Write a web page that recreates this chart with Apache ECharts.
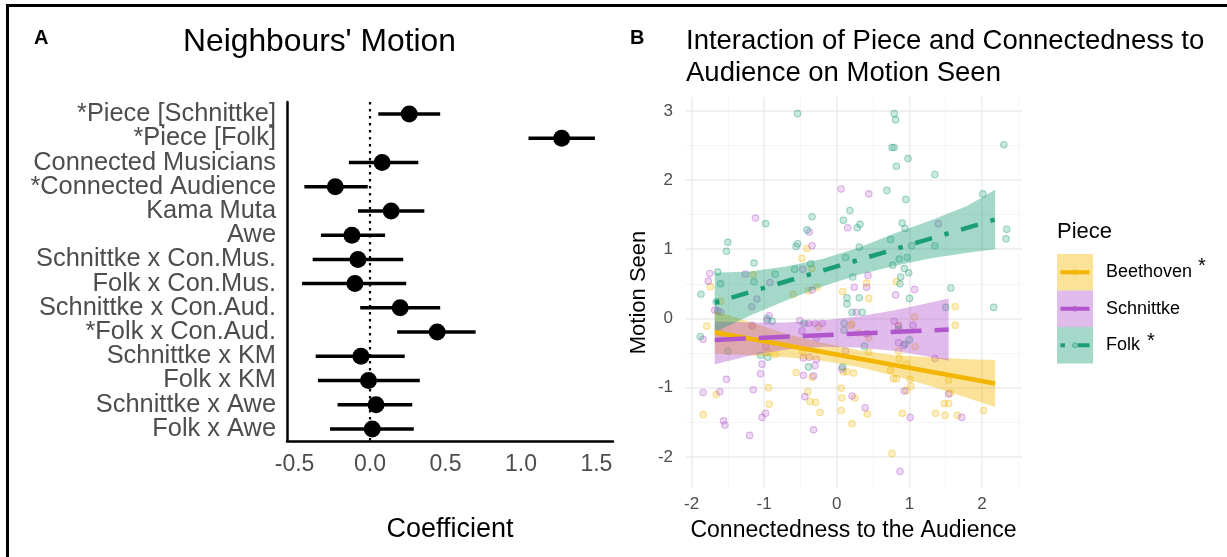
<!DOCTYPE html>
<html>
<head>
<meta charset="utf-8">
<script src="https://cdn.jsdelivr.net/npm/echarts@6/dist/echarts.min.js"></script>
<style>
  html, body { margin: 0; padding: 0; background: #ffffff; }
  #chart { width: 1227px; height: 557px; }
</style>
</head>
<body>
<div id="chart"></div>
<script>
// ---------- Panel A: model coefficients with confidence intervals ----------
const terms = [
  '*Piece [Schnittke]', '*Piece [Folk]', 'Connected Musicians', '*Connected Audience',
  'Kama Muta', 'Awe', 'Schnittke x Con.Mus.', 'Folk x Con.Mus.',
  'Schnittke x Con.Aud.', '*Folk x Con.Aud.', 'Schnittke x KM', 'Folk x KM',
  'Schnittke x Awe', 'Folk x Awe'
];
const estimates = [0.26, 1.27, 0.08, -0.23, 0.14, -0.12, -0.08, -0.10, 0.20, 0.445, -0.06, -0.01, 0.04, 0.015];
const ciLow     = [0.055, 1.05, -0.14, -0.435, -0.08, -0.325, -0.38, -0.45, -0.065, 0.18, -0.36, -0.345, -0.215, -0.265];
const ciHigh    = [0.465, 1.49, 0.32, -0.015, 0.36, 0.10, 0.22, 0.24, 0.465, 0.70, 0.23, 0.33, 0.28, 0.29];
const coefTicks = [-0.5, 0, 0.5, 1, 1.5];
// term rows split into two interleaved label sets so tightly packed labels all stay visible
const termRowsEven = terms.map((t, i) => i).filter(i => i % 2 === 0);
const termRowsOdd  = terms.map((t, i) => i).filter(i => i % 2 === 1);

// ---------- Panel B: motion seen vs connectedness, by piece ----------
const pieces = ['Beethoven', 'Schnittke', 'Folk'];

const pointsBeethoven = [
  [-0.41,1.01],[-0.48,0.87],[-0.34,0.72],[-1.15,0.63],[-1.60,0.25],[-1.74,0.46],[-0.60,0.35],[-0.39,0.40],
  [-0.27,0.45],[0.08,0.39],[0.41,0.51],[0.44,0.29],[0.82,0.53],[1.63,0.17],[-1.79,-0.11],[1.07,0.02],
  [0.21,-0.08],[0.19,-0.10],[-1.84,-1.39],[-1.66,-1.10],[-1.60,-0.21],[-0.95,-0.49],[-0.85,-0.52],[-0.94,-1.00],
  [-0.93,-1.24],[-1.15,-0.12],[-0.56,-0.78],[-0.40,-1.06],[-0.37,-1.20],[-0.29,-1.21],[-0.23,-1.36],[-0.34,-0.85],
  [-0.25,-0.12],[-0.47,-0.48],[0.06,-1.01],[0.07,-1.15],[0.06,-1.33],[0.21,-1.52],[0.25,-1.15],[0.14,-0.77],
  [0.23,-0.79],[0.09,-0.77],[0.30,-0.21],[0.44,-0.28],[0.44,-0.49],[0.42,-1.38],[0.76,-1.95],[0.74,-0.75],
  [0.78,-0.87],[0.82,-0.87],[0.85,-0.47],[0.86,-0.58],[0.85,-0.10],[1.01,-0.88],[1.02,-0.98],[0.96,-1.04],
  [1.08,-0.41],[0.96,-0.66],[1.36,-1.37],[0.90,-1.37],[1.48,-1.23],[1.54,-1.23],[1.49,-1.40],[1.54,-0.89],
  [1.56,-1.08],[1.66,-1.40],[1.63,-0.10],[2.02,-1.33]
];
const pointsSchnittke = [
  [0.06,1.87],[0.44,1.80],[-1.12,1.45],[0.15,1.31],[-0.38,1.25],[-0.34,1.05],[1.40,1.37],[-0.47,0.71],
  [-1.26,0.64],[-1.75,0.65],[-1.77,0.54],[-0.92,0.52],[-1.10,0.28],[-1.17,0.17],[0.43,0.62],[0.41,0.45],
  [0.24,0.45],[-0.34,0.41],[1.07,0.42],[0.81,0.34],[0.27,0.09],[-1.68,0.12],[-1.64,0.11],[-1.60,0.09],
  [-0.93,0.04],[-0.51,-0.03],[-1.84,-0.30],[-1.17,-0.10],[-0.98,-0.40],[-1.03,-0.66],[-1.05,-0.80],[-1.52,-0.88],
  [-1.84,-1.07],[-1.61,-1.06],[-1.15,-1.03],[-1.56,-1.48],[-1.54,-1.54],[-1.20,-1.69],[-1.03,-1.43],[-0.98,-1.37],
  [-0.39,-0.07],[-0.30,-0.07],[-0.20,-0.07],[-0.48,-0.18],[-0.28,-0.28],[-0.46,-0.57],[-0.38,-0.56],[-0.28,-0.59],
  [-0.46,-0.82],[-0.32,-0.83],[-0.30,-0.68],[-0.44,-1.13],[-0.32,-1.61],[0.12,-0.47],[0.07,-0.73],[0.21,-1.12],
  [0.39,-1.29],[0.41,-0.22],[0.79,-0.04],[0.85,-0.11],[1.05,-0.10],[0.85,-0.35],[0.92,-0.39],[0.93,-1.05],
  [1.01,-1.43],[0.87,-2.21],[1.35,-0.58],[1.54,-1.09],[1.72,-1.43],[-0.96,-0.03]
];
const pointsFolk = [
  [-0.54,2.96],[0.79,2.96],[0.81,2.87],[0.76,2.47],[0.79,2.47],[0.82,2.20],[0.98,2.31],[1.35,2.08],
  [2.30,2.51],[2.01,1.80],[0.69,1.85],[0.95,1.72],[0.18,1.56],[0.09,1.42],[0.32,1.36],[0.28,1.31],
  [-0.34,1.47],[-0.41,1.28],[-0.98,1.37],[-1.50,1.10],[-1.52,0.97],[0.90,1.38],[0.94,1.30],[0.74,1.14],
  [1.03,1.05],[1.35,1.05],[2.34,1.29],[2.33,1.15],[0.31,1.03],[0.12,0.88],[-0.54,1.08],[-0.56,1.04],
  [-0.58,0.71],[-0.36,0.79],[-1.14,0.80],[-1.14,0.53],[-0.85,0.64],[-1.64,0.67],[-1.60,0.50],[-1.87,0.35],
  [0.77,0.77],[0.97,0.88],[0.86,0.86],[0.93,0.72],[0.99,0.66],[0.88,0.60],[0.87,0.50],[0.22,0.60],
  [0.31,0.30],[0.14,0.30],[0.14,0.21],[0.21,0.09],[0.35,0.09],[1.57,0.44],[2.16,0.16],[1.50,0.16],
  [1.00,0.29],[-0.89,-0.04],[-0.96,0.00],[-1.66,0.24],[-1.88,-0.26],[-1.50,-0.47],[-1.05,-0.53],[-0.95,-0.56],
  [-0.45,-0.07],[0.10,-0.07],[0.10,-0.17],[0.38,-0.40],[-0.39,-0.70],[0.08,-0.70],[0.94,-0.37],[1.00,-0.31],
  [0.85,-0.16]
];

// fitted regression lines (start, end)
const fitBeethoven = [[-1.68, -0.20], [2.18, -0.94]];
const fitSchnittke = [[-1.68, -0.31], [1.54, -0.16]];
const fitFolk      = [[-1.68, 0.23], [2.18, 1.43]];

// confidence bands: x positions with lower / upper bounds
const bandXBeethoven     = [-1.68, -1.2, -0.7, -0.2, 0.3, 0.8, 1.3, 1.8, 2.18];
const bandLowBeethoven   = [-0.51, -0.53, -0.56, -0.61, -0.70, -0.83, -0.98, -1.15, -1.28];
const bandHighBeethoven  = [0.11, -0.05, -0.22, -0.35, -0.46, -0.53, -0.56, -0.59, -0.60];
const bandXSchnittke     = [-1.68, -1.2, -0.7, -0.2, 0.3, 0.8, 1.2, 1.54];
const bandLowSchnittke   = [-0.66, -0.54, -0.45, -0.41, -0.42, -0.47, -0.54, -0.61];
const bandHighSchnittke  = [-0.04, -0.06, -0.06, -0.03, 0.03, 0.12, 0.21, 0.29];
const bandXFolk          = [-1.68, -1.2, -0.7, -0.2, 0.3, 0.8, 1.3, 1.8, 2.18];
const bandLowFolk        = [-0.20, 0.04, 0.26, 0.46, 0.63, 0.76, 0.87, 0.95, 1.00];
const bandHighFolk       = [0.66, 0.68, 0.75, 0.86, 1.02, 1.23, 1.42, 1.63, 1.86];

const motionTicks = [-2, -1, 0, 1, 2, 3];
const motionMinor = [-1.5, -0.5, 0.5, 1.5, 2.5];
const connTicks = [-2, -1, 0, 1, 2];
const connMinor = [-1.5, -0.5, 0.5, 1.5, 2.5];

// ---------- styling ----------
const FONT = '"Liberation Sans", Arial, Helvetica, sans-serif';
const GREY = '#4d4d4d';
const colors = { Beethoven: [242, 182, 0], Schnittke: [177, 86, 204], Folk: [27, 158, 119] };
const rgba = (c, a) => `rgba(${c[0]},${c[1]},${c[2]},${a})`;
const dashes = { Beethoven: 'solid', Schnittke: [31, 13], Folk: [4.4, 13, 17.5, 13] };

const groups = {
  Beethoven: { pts: pointsBeethoven, fit: fitBeethoven, bx: bandXBeethoven, lo: bandLowBeethoven, hi: bandHighBeethoven },
  Schnittke: { pts: pointsSchnittke, fit: fitSchnittke, bx: bandXSchnittke, lo: bandLowSchnittke, hi: bandHighSchnittke },
  Folk:      { pts: pointsFolk,      fit: fitFolk,      bx: bandXFolk,      lo: bandLowFolk,      hi: bandHighFolk }
};

const chart = echarts.init(document.getElementById('chart'), null, { renderer: 'canvas' });

const series = [];

// error bars
series.push({
  type: 'custom',
  xAxisIndex: 0, yAxisIndex: 0,
  z: 2,
  data: terms.map((t, i) => [ciLow[i], ciHigh[i], i]),
  encode: { x: [0, 1], y: 2 },
  renderItem: (params, api) => {
    const a = api.coord([api.value(0), api.value(2)]);
    const b = api.coord([api.value(1), api.value(2)]);
    return {
      type: 'line',
      shape: { x1: a[0], y1: a[1], x2: b[0], y2: b[1] },
      style: { stroke: '#000', lineWidth: 3.5 }
    };
  }
});

// point estimates, with the dotted zero reference line
series.push({
  type: 'scatter',
  xAxisIndex: 0, yAxisIndex: 0,
  z: 3,
  symbolSize: 17,
  itemStyle: { color: '#000', opacity: 1 },
  data: terms.map((t, i) => [estimates[i], i]),
  markLine: {
    silent: true, symbol: 'none', label: { show: false }, z: 1,
    lineStyle: { color: '#000', type: [2.5, 4.5], width: 2.2 },
    data: [{ xAxis: 0 }]
  }
});

// raw observations
pieces.forEach(p => {
  series.push({
    type: 'scatter', name: p,
    xAxisIndex: 1, yAxisIndex: 2,
    z: 2,
    symbolSize: 6.5,
    itemStyle: { color: rgba(colors[p], 0.28), borderColor: rgba(colors[p], 0.5), borderWidth: 1.1 },
    data: groups[p].pts
  });
});

// confidence bands
pieces.forEach(p => {
  const g = groups[p];
  series.push({
    type: 'custom',
    xAxisIndex: 1, yAxisIndex: 2,
    z: 3,
    data: g.bx.map((x, i) => [x, g.lo[i], g.hi[i]]),
    encode: { x: 0, y: [1, 2] },
    renderItem: (params, api) => {
      if (params.dataIndex !== 0) return null;
      const n = params.dataInsideLength;
      const upper = [], lower = [];
      for (let i = 0; i < n; i++) {
        upper.push(api.coord([api.value(0, i), api.value(2, i)]));
        lower.push(api.coord([api.value(0, i), api.value(1, i)]));
      }
      return {
        type: 'polygon',
        shape: { points: upper.concat(lower.reverse()) },
        style: { fill: rgba(colors[p], 0.4) }
      };
    }
  });
});

// fitted lines
pieces.forEach(p => {
  series.push({
    type: 'line',
    xAxisIndex: 1, yAxisIndex: 2,
    z: 4,
    showSymbol: false,
    symbol: 'none',
    lineStyle: { color: rgba(colors[p], 1), width: 4.5, type: dashes[p], cap: 'butt' },
    data: groups[p].fit
  });
});

// legend keys for panel B
const legendGraphics = [];
const keyX = 1057, keyW = 36, keyH = 36.5, keyTop = 254;
pieces.forEach((p, i) => {
  const y0 = keyTop + i * keyH;
  legendGraphics.push({
    type: 'rect', shape: { x: keyX, y: y0, width: keyW, height: keyH },
    style: { fill: rgba(colors[p], 0.4) }, silent: true
  });
  legendGraphics.push({
    type: 'circle', shape: { cx: keyX + keyW / 2, cy: y0 + keyH / 2, r: 2.6 },
    style: { fill: rgba(colors[p], 0.28), stroke: rgba(colors[p], 0.5), lineWidth: 1 }, silent: true
  });
  const ld = p === 'Folk' ? [4.4, 13, 17.5, 13] : null;
  legendGraphics.push({
    type: 'line', shape: { x1: keyX + 3.5, y1: y0 + keyH / 2, x2: keyX + keyW - 3.5, y2: y0 + keyH / 2 },
    style: { stroke: rgba(colors[p], 1), lineWidth: 4, lineDash: ld, lineCap: 'butt' }, silent: true
  });
  legendGraphics.push({
    type: 'text', x: 1106, y: y0 + keyH / 2,
    style: { text: p, font: `18px ${FONT}`, fill: '#000', verticalAlign: 'middle', align: 'left' }, silent: true
  });
});
legendGraphics.push({
  type: 'text', x: 1198, y: 266,
  style: { text: '*', font: `20px ${FONT}`, fill: '#000', verticalAlign: 'middle' }, silent: true
});
legendGraphics.push({
  type: 'text', x: 1147, y: 341,
  style: { text: '*', font: `20px ${FONT}`, fill: '#000', verticalAlign: 'middle' }, silent: true
});
legendGraphics.push({
  type: 'text', x: 1057, y: 232,
  style: { text: 'Piece', font: `22px ${FONT}`, fill: '#000', verticalAlign: 'middle' }, silent: true
});

// titles, panel tags and outer frame
const textGraphics = [
  { type: 'text', x: 34, y: 38, style: { text: 'A', font: `bold 20px ${FONT}`, fill: '#000', verticalAlign: 'middle' } },
  { type: 'text', x: 183, y: 42, style: { text: "Neighbours' Motion", font: `31.8px ${FONT}`, fill: '#000', verticalAlign: 'middle' } },
  { type: 'text', x: 630, y: 38, style: { text: 'B', font: `bold 20px ${FONT}`, fill: '#000', verticalAlign: 'middle' } },
  { type: 'text', x: 686, y: 25, style: { text: 'Interaction of Piece and Connectedness to\nAudience on Motion Seen', font: `27.5px ${FONT}`, lineHeight: 32, fill: '#000', verticalAlign: 'top' } },
  { type: 'line', shape: { x1: 6, y1: 5.5, x2: 1227, y2: 5.5 }, style: { stroke: '#000', lineWidth: 3 } },
  { type: 'line', shape: { x1: 7.5, y1: 4, x2: 7.5, y2: 557 }, style: { stroke: '#000', lineWidth: 3 } }
];

const termLabelStyle = {
  formatter: v => terms[Math.round(v)],
  showMinLabel: true, showMaxLabel: true,
  fontSize: 25.4, color: GREY, margin: 11, fontFamily: FONT
};

const option = {
  animation: false,
  backgroundColor: '#ffffff',
  textStyle: { fontFamily: FONT },
  grid: [
    { left: 287, top: 102, width: 326, height: 339 },
    { left: 685, top: 97, width: 337, height: 391 }
  ],
  xAxis: [
    {
      gridIndex: 0, type: 'value', min: -0.55, max: 1.61,
      axisLine: { show: true, onZero: false, lineStyle: { color: '#000', width: 2.5 } },
      axisTick: { show: false, customValues: coefTicks },
      axisLabel: { customValues: coefTicks, formatter: v => v.toFixed(1), fontSize: 23, color: GREY, margin: 12, fontFamily: FONT },
      splitLine: { show: false },
      name: 'Coefficient', nameLocation: 'middle', nameGap: 75,
      nameTextStyle: { fontSize: 27, color: '#000', fontFamily: FONT }
    },
    {
      gridIndex: 1, type: 'value', min: -2.09, max: 2.55,
      axisLine: { show: false },
      axisTick: { show: false, customValues: connTicks },
      axisLabel: { customValues: connTicks, fontSize: 17, color: GREY, margin: 8, fontFamily: FONT },
      splitLine: { show: true, lineStyle: { color: '#ebebeb', width: 1.5 } },
      name: 'Connectedness to the Audience', nameLocation: 'middle', nameGap: 31,
      nameTextStyle: { fontSize: 23, color: '#000', fontFamily: FONT }
    },
    {
      gridIndex: 1, type: 'value', min: -2.09, max: 2.55,
      axisLine: { show: false },
      axisTick: { show: false, customValues: connMinor },
      axisLabel: { show: false },
      splitLine: { show: true, lineStyle: { color: '#f3f3f3', width: 0.8 } }
    }
  ],
  yAxis: [
    {
      gridIndex: 0, type: 'value', position: 'left', min: -0.5, max: 13.5, inverse: true,
      axisLine: { show: true, onZero: false, lineStyle: { color: '#000', width: 2.5 } },
      axisTick: { show: false, customValues: termRowsEven },
      axisLabel: Object.assign({ customValues: termRowsEven }, termLabelStyle),
      splitLine: { show: false }
    },
    {
      gridIndex: 0, type: 'value', position: 'left', offset: 0, min: -0.5, max: 13.5, inverse: true,
      axisLine: { show: false },
      axisTick: { show: false, customValues: termRowsOdd },
      axisLabel: Object.assign({ customValues: termRowsOdd }, termLabelStyle),
      splitLine: { show: false }
    },
    {
      gridIndex: 1, type: 'value', min: -2.45, max: 3.2,
      axisLine: { show: false },
      axisTick: { show: false, customValues: motionTicks },
      axisLabel: { customValues: motionTicks, fontSize: 17, color: GREY, margin: 12, fontFamily: FONT },
      splitLine: { show: true, lineStyle: { color: '#ebebeb', width: 1.5 } },
      name: 'Motion Seen', nameLocation: 'middle', nameGap: 35,
      nameTextStyle: { fontSize: 22, color: '#000', fontFamily: FONT }
    },
    {
      gridIndex: 1, type: 'value', min: -2.45, max: 3.2, position: 'left',
      axisLine: { show: false },
      axisTick: { show: false, customValues: motionMinor },
      axisLabel: { show: false },
      splitLine: { show: true, lineStyle: { color: '#f3f3f3', width: 0.8 } }
    }
  ],
  graphic: textGraphics.concat(legendGraphics),
  series: series
};

chart.setOption(option);
</script>
</body>
</html>
